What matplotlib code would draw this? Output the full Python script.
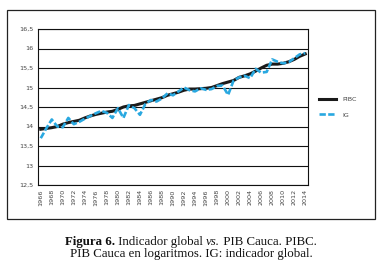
import matplotlib
matplotlib.use("Agg")
import matplotlib.pyplot as plt
from matplotlib.patches import Rectangle

years = list(range(1966, 2015))
pibc = [13.93, 13.95, 13.97, 14.00, 14.06, 14.10, 14.13, 14.16, 14.22, 14.27,
        14.31, 14.34, 14.37, 14.39, 14.44, 14.50, 14.53, 14.54, 14.58, 14.62,
        14.66, 14.70, 14.74, 14.80, 14.84, 14.88, 14.93, 14.96, 14.96, 14.97,
        14.98, 15.00, 15.05, 15.10, 15.14, 15.18, 15.26, 15.30, 15.35, 15.42,
        15.50, 15.57, 15.60, 15.60, 15.62, 15.66, 15.72, 15.80, 15.86]
ig = [13.70, 13.95, 14.18, 14.00, 13.98, 14.22, 14.06, 14.12, 14.20, 14.27,
      14.34, 14.40, 14.35, 14.22, 14.47, 14.22, 14.55, 14.47, 14.30, 14.58,
      14.68, 14.64, 14.72, 14.85, 14.80, 14.90, 15.00, 14.93, 14.90, 14.98,
      14.94, 14.96, 15.04, 15.05, 14.81, 15.18, 15.26, 15.30, 15.24, 15.48,
      15.38, 15.40, 15.72, 15.66, 15.62, 15.65, 15.75, 15.85, 15.88]
yticks = [12.5, 13, 13.5, 14, 14.5, 15, 15.5, 16, 16.5]
ytick_labels = ["12,5", "13", "13,5", "14", "14,5", "15", "15,5", "16", "16,5"]

W, H = 382, 266
fig = plt.figure(figsize=(W / 100, H / 100), dpi=100)

# outer frame of the chart
fig.patches.append(Rectangle((7 / W, 1 - 219 / H), 368 / W, 209 / H,
                             transform=fig.transFigure, fill=False,
                             edgecolor="#222222", linewidth=0.9))

ax = fig.add_axes([38 / W, 1 - 185 / H, 270 / W, 156 / H])
x = range(len(years))
ax.plot(x, pibc, color="#1a1a1a", linewidth=2.2, label="PIBC", zorder=3)
ax.plot(x, ig, color="#29a8e0", linewidth=1.9, linestyle=(0, (2.4, 0.9)),
        label="IG", zorder=4)

ax.set_xlim(-0.5, len(years) - 0.5)
ax.set_ylim(12.5, 16.5)
ax.set_yticks(yticks)
ax.set_yticklabels(ytick_labels)
ax.set_xticks(list(x)[::2])
ax.set_xticklabels([str(y) for y in years[::2]], rotation=90)
ax.tick_params(axis="both", length=0, labelsize=4.6, colors="#444444", pad=3)
ax.yaxis.grid(True, color="#111111", linewidth=0.8)
ax.set_axisbelow(True)
for s in ax.spines.values():
    s.set_linewidth(0.8)
    s.set_color("#111111")

ax.legend(loc="center left", bbox_to_anchor=(1.02, 0.5), frameon=False,
          fontsize=4.6, handlelength=2.6, labelspacing=1.6, handletextpad=1.0,
          labelcolor="#444444")

# caption with mixed styles
fig.canvas.draw()
r = fig.canvas.get_renderer()
serif = "Liberation Serif"
parts1 = [("Figura 6.", "bold", "normal"), (" Indicador global ", "normal", "normal"),
          ("vs.", "normal", "italic"), (" PIB Cauca. PIBC.", "normal", "normal")]
texts = []
total = 0
for s, w, st in parts1:
    t = fig.text(0, 0, s, fontsize=9.3, family=serif, weight=w, style=st,
                 color="#111111", va="baseline")
    wpx = t.get_window_extent(r).width
    texts.append((t, wpx))
    total += wpx
xpos = W / 2 - total / 2
for t, wpx in texts:
    t.set_position((xpos / W, 1 - 245 / H))
    xpos += wpx
fig.text(0.5, 1 - 257 / H, "PIB Cauca en logaritmos. IG: indicador global.",
         fontsize=9.3, family=serif, color="#111111", ha="center", va="baseline")

fig.savefig("out.png", dpi=100)
